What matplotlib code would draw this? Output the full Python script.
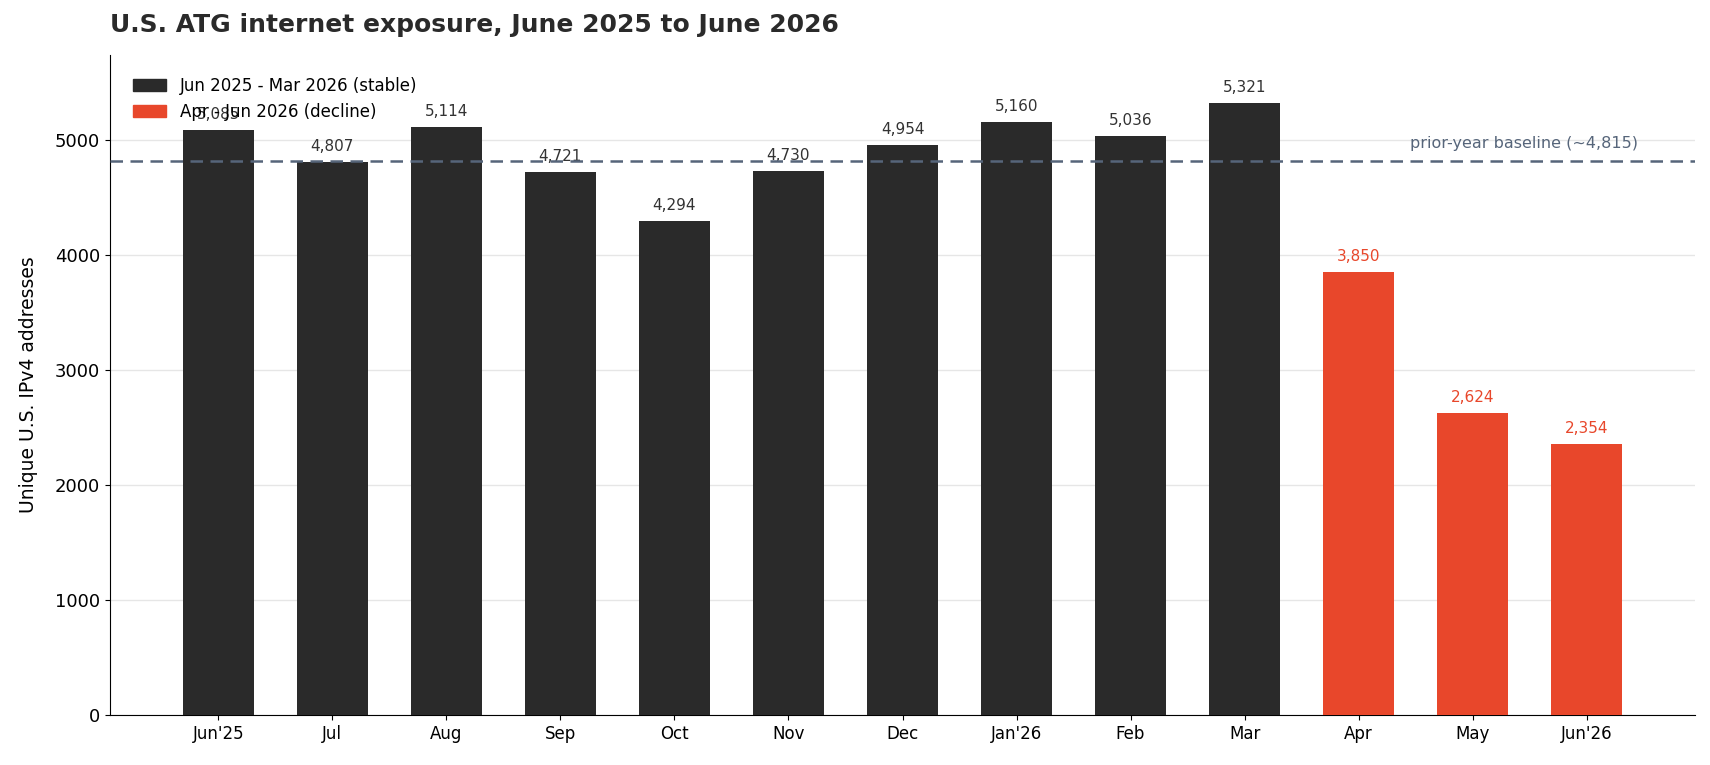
import matplotlib
matplotlib.use("Agg")
import matplotlib.pyplot as plt
from matplotlib.patches import Patch

months = ["Jun'25","Jul","Aug","Sep","Oct","Nov","Dec","Jan'26","Feb","Mar","Apr","May","Jun'26"]
values = [5085,4807,5114,4721,4294,4730,4954,5160,5036,5321,3850,2624,2354]
decline = [False]*10 + [True]*3
baseline = 4815

dark = "#2a2a2a"; red = "#e8472b"
fig = plt.figure(figsize=(17.1,7.65), dpi=100)
ax = fig.add_axes([110/1710, 50/765, 1585/1710, 660/765])
x = list(range(len(months)))
cols = [red if d else dark for d in decline]
ax.bar(x, values, width=0.62, color=cols, zorder=3)
for xi, v, d in zip(x, values, decline):
    ax.text(xi, v+70, f"{v:,}", ha="center", va="bottom", fontsize=11,
            color=red if d else "#333333", zorder=4)
ax.axhline(baseline, color="#56657a", ls=(0,(5,3)), lw=1.8, zorder=4)
ax.text(12.45, baseline+90, "prior-year baseline (~4,815)", ha="right", va="bottom",
        fontsize=11.5, color="#56657a")
ax.set_xlim(-0.95, 12.95)
ax.set_ylim(0, 5740)
ax.set_xticks(x); ax.set_xticklabels(months, fontsize=12)
ax.set_yticks([0,1000,2000,3000,4000,5000])
ax.tick_params(axis="y", labelsize=13)
ax.yaxis.grid(True, color="#e6e6e6", lw=1, zorder=0)
for s in ["top","right"]:
    ax.spines[s].set_visible(False)
ax.set_ylabel("Unique U.S. IPv4 addresses", fontsize=13.5, labelpad=12)
ax.legend(handles=[Patch(color=dark, label="Jun 2025 - Mar 2026 (stable)"),
                   Patch(color=red, label="Apr - Jun 2026 (decline)")],
          loc="upper left", frameon=False, fontsize=12, bbox_to_anchor=(0.005, 0.99))
fig.text(110/1710, 1-25/765, "U.S. ATG internet exposure, June 2025 to June 2026",
         fontsize=18, fontweight="bold", color="#2a2a2a", va="center")
fig.savefig("out.png", dpi=100)
